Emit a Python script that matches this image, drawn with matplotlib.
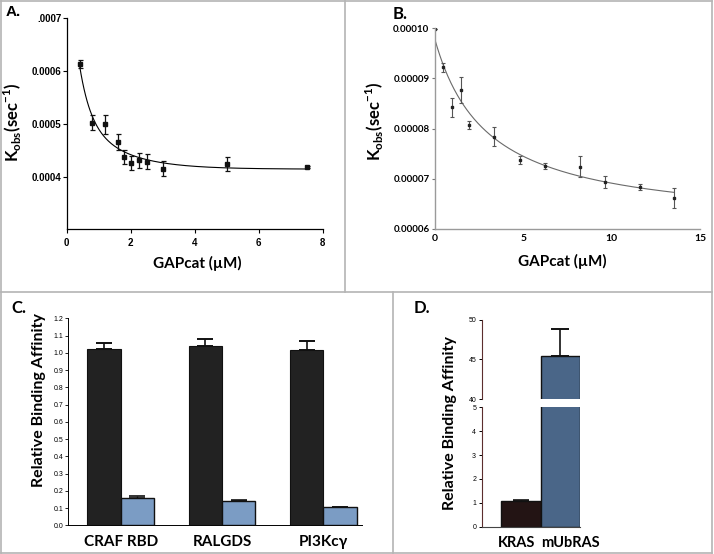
import numpy as np
import matplotlib
matplotlib.use("Agg")
import matplotlib.pyplot as plt
from matplotlib.lines import Line2D

# ---------------- data ----------------
# Panel A
a_x = [0.4, 0.8, 1.2, 1.6, 1.8, 2.0, 2.25, 2.5, 3.0, 5.0, 7.5]
a_y = [0.000614, 0.000502, 0.000499, 0.000466, 0.000437, 0.000425, 0.000431,
       0.000428, 0.000415, 0.000424, 0.000418]
a_err = [0.0000075, 0.000014, 0.000018, 0.000015, 0.0000135, 0.0000135,
         0.000014, 0.000014, 0.000014, 0.0000135, 0.000002]
# fitted curve parameters (two-phase decay)
a_fit_plateau, a_fit_a1, a_fit_k1, a_fit_a2, a_fit_k2 = 0.000414, 0.000337, 3.0, 0.000132, 0.8
a_fit_range = (0.4, 7.5)
a_yticks = [0.0004, 0.0005, 0.0006, 0.0007]
a_yticklabels = ["0.0004", "0.0005", "0.0006", ".0007"]
a_xticks = [0, 2, 4, 6, 8]

# Panel B
b_x = [0.0, 0.47, 0.94, 1.45, 1.92, 3.36, 4.83, 6.25, 8.23, 9.62, 11.6, 13.55]
b_y = [0.0000998, 0.0000922, 0.0000842, 0.0000876, 0.0000807, 0.0000784,
       0.0000737, 0.0000726, 0.0000724, 0.0000694, 0.0000683, 0.0000662]
b_err = [0.0, 0.0000009, 0.0000019, 0.0000026, 0.0000008, 0.0000019,
         0.0000008, 0.0000006, 0.0000021, 0.0000012, 0.0000006, 0.000002]
b_fit_plateau, b_fit_amp, b_fit_k = 0.0000605, 0.0000372, 3.0
b_fit_range = (0.0, 13.5)
b_yticks = [0.00006, 0.00007, 0.00008, 0.00009, 0.00010]
b_yticklabels = ["0.00006", "0.00007", "0.00008", "0.00009", "0.00010"]
b_xticks = [0, 5, 10, 15]

# Panel C
c_categories = ["CRAF RBD", "RALGDS", "PI3Kcγ"]
c_black = [1.020, 1.038, 1.014]
c_black_err = [0.035, 0.040, 0.053]
c_blue = [0.158, 0.141, 0.104]
c_blue_err = [0.012, 0.006, 0.002]
c_yticks = [0.0, 0.1, 0.2, 0.3, 0.4, 0.5, 0.6, 0.7, 0.8, 0.9, 1.0, 1.1, 1.2]

# Panel D
d_categories = ["KRAS", "mUbRAS"]
d_values = [1.07, 45.4]
d_err = [0.04, 3.4]
d_low_ticks = [0, 1, 2, 3, 4, 5]
d_high_ticks = [40, 45, 50]

# ---------------- figure ----------------
W, H = 714, 554
fig = plt.figure(figsize=(W / 100, H / 100), dpi=100)
fig.patch.set_facecolor("white")

ARIAL = "Liberation Sans"
CALIBRI = "Lato"


def rect(x0, y0, x1, y1):
    return [x0 / W, 1 - y1 / H, (x1 - x0) / W, (y1 - y0) / H]


def fpos(x, y):
    return (x / W, 1 - y / H)


# panel border lines
border = "#b4b4b4"
for (x0, y0, x1, y1) in [(1, 1, 712, 1), (1, 553, 712, 553), (1, 1, 1, 553),
                         (712, 1, 712, 553), (1, 292, 712, 292),
                         (345, 1, 345, 292), (393, 292, 393, 553)]:
    fig.add_artist(Line2D([x0 / W, x1 / W], [1 - y0 / H, 1 - y1 / H],
                          color=border, lw=1.2))

# ---------------- Panel A ----------------
axA = fig.add_axes(rect(66.7, 18.3, 322.7, 229.3))
axA.set_xlim(0, 8)
axA.set_ylim(0.0003, 0.0007)
for s in ["top", "right"]:
    axA.spines[s].set_visible(False)
for s in ["left", "bottom"]:
    axA.spines[s].set_linewidth(0.9)
xf = np.linspace(a_fit_range[0], a_fit_range[1], 300)
yf = a_fit_plateau + a_fit_a1 * np.exp(-a_fit_k1 * xf) + a_fit_a2 * np.exp(-a_fit_k2 * xf)
axA.plot(xf, yf, color="black", lw=0.8)
axA.errorbar(a_x, a_y, yerr=a_err, fmt="s", color="#111111", ms=3,
             capsize=1.8, elinewidth=0.9, capthick=0.9)
axA.set_yticks(a_yticks)
axA.set_yticklabels(a_yticklabels)
axA.set_xticks(a_xticks)
axA.tick_params(length=3, width=0.8, pad=1, labelsize=7)
for lab in axA.get_xticklabels() + axA.get_yticklabels():
    lab.set_fontfamily(ARIAL)
    lab.set_fontweight("bold")
axA.tick_params(axis="x", pad=3)
fig.text(*fpos(197, 263), "GAPcat (µM)", ha="center", va="center",
         fontsize=11, fontweight="bold", family=CALIBRI)
fig.text(*fpos(13, 122), r"K$_{\mathregular{obs}}$(sec$^{\mathregular{-1}}$)",
         ha="center", va="center", rotation=90, fontsize=12,
         fontweight="bold", family=CALIBRI)
fig.text(*fpos(6, 12), "A.", ha="left", va="center", fontsize=11,
         fontweight="bold", family=ARIAL)

# ---------------- Panel B ----------------
axB = fig.add_axes(rect(435, 28.3, 700, 228.7))
axB.set_xlim(0, 15)
axB.set_ylim(0.00006, 0.00010)
for s in ["top", "right"]:
    axB.spines[s].set_visible(False)
for s in ["left", "bottom"]:
    axB.spines[s].set_color("#9a9a9a")
    axB.spines[s].set_linewidth(1.0)
xf = np.linspace(b_fit_range[0], b_fit_range[1], 300)
yf = b_fit_plateau + b_fit_amp * b_fit_k / (b_fit_k + xf)
axB.plot(xf, yf, color="#6a6a6a", lw=0.8)
axB.errorbar(b_x, b_y, yerr=b_err, fmt="s", color="#222222", ms=2,
             ecolor="#555555", capsize=1.5, elinewidth=0.8, capthick=0.8)
axB.set_yticks(b_yticks)
axB.set_yticklabels(b_yticklabels)
axB.set_xticks(b_xticks)
axB.tick_params(axis="y", length=2.5, width=0.8, pad=1.5, labelsize=7,
                color="#777777")
axB.tick_params(axis="x", length=0, pad=4, labelsize=7.5)
for lab in axB.get_xticklabels() + axB.get_yticklabels():
    lab.set_fontfamily(CALIBRI)
    lab.set_fontweight("bold")
fig.text(*fpos(562, 261), "GAPcat (µM)", ha="center", va="center",
         fontsize=11, fontweight="bold", family=CALIBRI)
fig.text(*fpos(375, 121), r"K$_{\mathregular{obs}}$(sec$^{\mathregular{-1}}$)",
         ha="center", va="center", rotation=90, fontsize=12,
         fontweight="bold", family=CALIBRI)
fig.text(*fpos(393, 14), "B.", ha="left", va="center", fontsize=12,
         fontweight="bold", family=CALIBRI)

# ---------------- Panel C ----------------
axC = fig.add_axes(rect(68.3, 318.3, 361.7, 525.3))
bw = 0.33
xc = np.arange(len(c_categories))
axC.bar(xc - bw / 2, c_black, width=bw, color="#222222", edgecolor="#111111",
        lw=0.8)
axC.bar(xc + bw / 2, c_blue, width=bw, color="#7b9cc4", edgecolor="#111111",
        lw=1.0)
axC.errorbar(xc - bw / 2, c_black, yerr=[np.zeros(3), c_black_err], fmt="none",
             ecolor="#111111", capsize=5.5, elinewidth=1.2, capthick=1.4)
axC.errorbar(xc + bw / 2, c_blue, yerr=[np.zeros(3), c_blue_err], fmt="none",
             ecolor="#111111", capsize=5.5, elinewidth=1.0, capthick=1.2)
axC.set_xlim(-0.517, 2.379)
axC.set_ylim(0, 1.2)
for s in ["top", "right"]:
    axC.spines[s].set_visible(False)
axC.spines["left"].set_linewidth(0.7)
axC.spines["bottom"].set_linewidth(0.7)
axC.set_yticks(c_yticks)
axC.set_yticklabels([f"{v:.1f}" for v in c_yticks])
axC.tick_params(axis="y", length=2, width=0.6, pad=1.5, labelsize=5)
axC.set_xticks(xc)
axC.set_xticklabels(c_categories)
axC.tick_params(axis="x", length=0, pad=7, labelsize=11)
for lab in axC.get_yticklabels():
    lab.set_fontfamily(ARIAL)
for lab in axC.get_xticklabels():
    lab.set_fontfamily(CALIBRI)
    lab.set_fontweight("bold")
fig.text(*fpos(39, 400), "Relative Binding Affinity", ha="center",
         va="center", rotation=90, fontsize=11.5, fontweight="bold",
         family=CALIBRI)
fig.text(*fpos(11, 308), "C.", ha="left", va="center", fontsize=12,
         fontweight="bold", family=CALIBRI)

# ---------------- Panel D ----------------
spc = "#5c2e2e"
d_colors = ["#231414", "#4a6688"]
xd = np.arange(len(d_categories))
axDl = fig.add_axes(rect(481.7, 407.3, 580, 526.7))
axDh = fig.add_axes(rect(481.7, 319.7, 580, 399.3))
for ax in (axDl, axDh):
    ax.bar(xd, d_values, width=1.0, color=d_colors, edgecolor="#111111", lw=1.0)
    ax.set_xlim(-0.99, 1.5)
    for s in ["top", "right"]:
        ax.spines[s].set_visible(False)
    ax.spines["left"].set_color(spc)
    ax.spines["left"].set_linewidth(0.8)
    ax.tick_params(axis="y", length=2.5, width=0.7, pad=1.5, labelsize=5)
    for lab in ax.get_yticklabels():
        lab.set_fontfamily(ARIAL)
axDl.errorbar(xd[:1], d_values[:1], yerr=[[0], d_err[:1]], fmt="none",
              ecolor="#111111", capsize=6, elinewidth=1.0, capthick=1.2)
axDh.errorbar(xd[1:], d_values[1:], yerr=[[0], d_err[1:]], fmt="none",
              ecolor="#111111", capsize=6.5, elinewidth=1.2, capthick=1.4)
axDl.set_ylim(0, 5)
axDh.set_ylim(40, 50)
axDl.set_yticks(d_low_ticks)
axDh.set_yticks(d_high_ticks)
axDh.spines["bottom"].set_visible(False)
axDh.set_xticks([])
axDl.spines["bottom"].set_color("#444444")
axDl.spines["bottom"].set_linewidth(0.8)
# category labels sit slightly apart (as in the reference) so they do not collide
d_label_pos = [-0.11, 1.25]
axDl.set_xticks(d_label_pos)
axDl.set_xticklabels(d_categories)
axDl.tick_params(axis="x", length=0, pad=7, labelsize=10.5)
for lab in axDl.get_xticklabels():
    lab.set_fontfamily(CALIBRI)
    lab.set_fontweight("bold")
fig.text(*fpos(450, 423), "Relative Binding Affinity", ha="center",
         va="center", rotation=90, fontsize=11.5, fontweight="bold",
         family=CALIBRI)
fig.text(*fpos(414, 308), "D.", ha="left", va="center", fontsize=12,
         fontweight="bold", family=CALIBRI)

fig.savefig("out.png", dpi=100, facecolor="white")
